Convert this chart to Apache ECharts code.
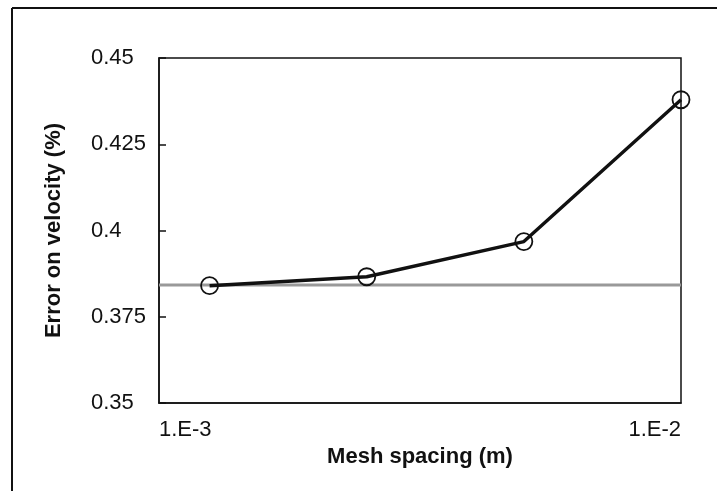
<!DOCTYPE html>
<html>
<head>
<meta charset="utf-8">
<script src="https://cdn.jsdelivr.net/npm/echarts@6/dist/echarts.min.js"></script>
<style>
html,body{margin:0;padding:0;background:#fff;}
#chart{width:717px;height:491px;}
</style>
</head>
<body>
<div id="chart"></div>
<script>
// Data
const meshSpacing = [0.00125, 0.0025, 0.005, 0.01];
const velocityError = [0.384, 0.3866, 0.3968, 0.4379];
const referenceX = [0.001, 0.01];
const referenceY = [0.3842, 0.3842];
const yTicks = [0.35, 0.375, 0.4, 0.425, 0.45];
const xTickLabels = {"0.001": "1.E-3", "0.01": "1.E-2"};

const chart = echarts.init(document.getElementById('chart'), null, {renderer: 'canvas'});
const FONT = 'Liberation Sans, Arial, sans-serif';
const FS = 22;

const option = {
  backgroundColor: '#fff',
  animation: false,
  grid: {left: 159, right: 36, top: 58, bottom: 88, show: true, borderColor: '#111', borderWidth: 1.5},
  xAxis: {
    type: 'log', logBase: 10, min: 0.001, max: 0.01,
    name: 'Mesh spacing (m)', nameLocation: 'middle', nameGap: 41,
    nameTextStyle: {fontFamily: FONT, fontSize: FS, fontWeight: 'bold', color: '#111'},
    axisLine: {show: true, lineStyle: {color: '#111', width: 1.5}},
    axisTick: {show: false},
    splitLine: {show: false},
    minorTick: {show: false},
    axisLabel: {
      fontFamily: FONT, fontSize: FS, color: '#111', margin: 16,
      formatter: function (v) {
        const k = String(+v.toPrecision(3));
        if (xTickLabels[k] === undefined) return '';
        return (k === '0.001' ? '{l|' : '{r|') + xTickLabels[k] + '}';
      },
      rich: {
        l: {fontFamily: FONT, fontSize: FS, color: '#111', width: 70, align: 'left', padding: [0, 0, 0, 70]},
        r: {fontFamily: FONT, fontSize: FS, color: '#111', width: 70, align: 'right', padding: [0, 70, 0, 0]}
      }
    }
  },
  yAxis: {
    type: 'value', min: yTicks[0], max: yTicks[yTicks.length - 1], interval: 0.025,
    name: 'Error on velocity (%)', nameLocation: 'middle', nameGap: 94,
    nameTextStyle: {fontFamily: FONT, fontSize: FS, fontWeight: 'bold', color: '#111'},
    axisLine: {show: true, lineStyle: {color: '#111', width: 1.5}},
    axisTick: {show: true, inside: true, length: 7, lineStyle: {color: '#111', width: 1.5}},
    splitLine: {show: false},
    axisLabel: {
      fontFamily: FONT, fontSize: FS, color: '#111', margin: 68, align: 'left',
      formatter: function (v) {
        for (const t of yTicks) if (Math.abs(t - v) < 1e-9) return String(t);
        return '';
      }
    }
  },
  series: [
    {
      type: 'line', z: 1,
      data: referenceX.map((x, i) => [x, referenceY[i]]),
      symbol: 'none',
      lineStyle: {color: '#999', width: 3}
    },
    {
      type: 'line', z: 2,
      data: meshSpacing.map((x, i) => [x, velocityError[i]]),
      symbol: 'circle', symbolSize: 17,
      itemStyle: {color: 'rgba(0,0,0,0)', borderColor: '#111', borderWidth: 1.8},
      lineStyle: {color: '#111', width: 3.4}
    }
  ],
  graphic: [
    {type: 'line', shape: {x1: 12, y1: 8, x2: 12, y2: 491}, style: {stroke: '#111', lineWidth: 2}},
    {type: 'line', shape: {x1: 12, y1: 8, x2: 717, y2: 8}, style: {stroke: '#111', lineWidth: 2}}
  ]
};
chart.setOption(option);
</script>
</body>
</html>
